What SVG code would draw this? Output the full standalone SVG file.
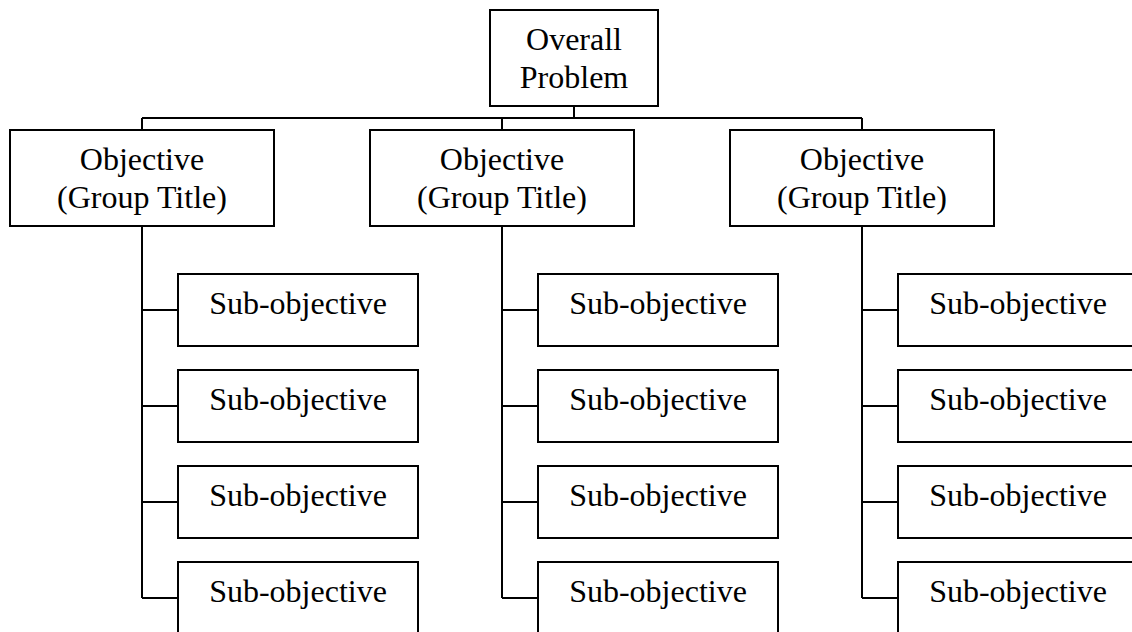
<svg xmlns="http://www.w3.org/2000/svg" width="1132" height="632" viewBox="0 0 1132 632">
<style>
.box{fill:#fff;stroke:#000;stroke-width:2}
.ln{fill:none;stroke:#000;stroke-width:2}
text{font-family:"Liberation Serif","Times New Roman",serif;font-size:32px;fill:#000;text-anchor:middle}
</style>
<rect width="1132" height="632" fill="#fff"/>
<g id="connectors" class="ln">
<path d="M574 106V118M142 118H862M142 118V130M502 118V130M862 118V130"/>
<path d="M142 226V598M142 310H178M142 406H178M142 502H178M142 598H178"/>
<path d="M502 226V598M502 310H538M502 406H538M502 502H538M502 598H538"/>
<path d="M862 226V598M862 310H898M862 406H898M862 502H898M862 598H898"/>
</g>
<g id="overall"><rect class="box" x="490" y="10" width="168" height="96"/><text x="574" y="50">Overall</text><text x="574" y="88">Problem</text></g>
<g id="obj1"><rect class="box" x="10" y="130" width="264" height="96"/><text x="142" y="170">Objective</text><text x="142" y="208">(Group Title)</text></g>
<g id="obj2"><rect class="box" x="370" y="130" width="264" height="96"/><text x="502" y="170">Objective</text><text x="502" y="208">(Group Title)</text></g>
<g id="obj3"><rect class="box" x="730" y="130" width="264" height="96"/><text x="862" y="170">Objective</text><text x="862" y="208">(Group Title)</text></g>
<g id="sub1a"><rect class="box" x="178" y="274" width="240" height="72"/><text x="298" y="314">Sub-objective</text></g>
<g id="sub1b"><rect class="box" x="178" y="370" width="240" height="72"/><text x="298" y="410">Sub-objective</text></g>
<g id="sub1c"><rect class="box" x="178" y="466" width="240" height="72"/><text x="298" y="506">Sub-objective</text></g>
<g id="sub1d"><rect class="box" x="178" y="562" width="240" height="72"/><text x="298" y="602">Sub-objective</text></g>
<g id="sub2a"><rect class="box" x="538" y="274" width="240" height="72"/><text x="658" y="314">Sub-objective</text></g>
<g id="sub2b"><rect class="box" x="538" y="370" width="240" height="72"/><text x="658" y="410">Sub-objective</text></g>
<g id="sub2c"><rect class="box" x="538" y="466" width="240" height="72"/><text x="658" y="506">Sub-objective</text></g>
<g id="sub2d"><rect class="box" x="538" y="562" width="240" height="72"/><text x="658" y="602">Sub-objective</text></g>
<g id="sub3a"><rect class="box" x="898" y="274" width="240" height="72"/><text x="1018" y="314">Sub-objective</text></g>
<g id="sub3b"><rect class="box" x="898" y="370" width="240" height="72"/><text x="1018" y="410">Sub-objective</text></g>
<g id="sub3c"><rect class="box" x="898" y="466" width="240" height="72"/><text x="1018" y="506">Sub-objective</text></g>
<g id="sub3d"><rect class="box" x="898" y="562" width="240" height="72"/><text x="1018" y="602">Sub-objective</text></g>
</svg>
